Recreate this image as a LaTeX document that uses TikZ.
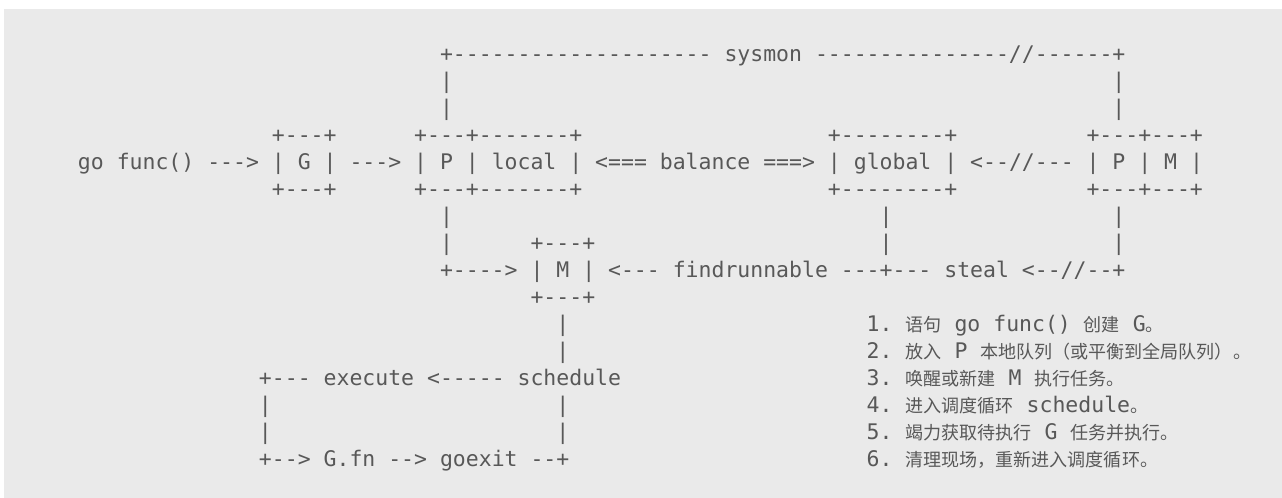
\documentclass[tikz,border=0pt]{standalone}
\usepackage{fontspec}
\setmonofont{DejaVu Sans Mono}
\newfontfamily\cjk{Noto Sans CJK SC}[Scale=0.84]
\usepackage{tikz}

\definecolor{codebg}{RGB}{234,234,234}
\definecolor{codetext}{RGB}{88,88,88}

\tikzset{
  ascii/.style={anchor=base west, inner sep=0pt, outer sep=0pt, text=codetext,
    font=\ttfamily\fontsize{10.74pt}{13.5pt}\selectfont},
}

\begin{document}
\frenchspacing
\begin{tikzpicture}[x=6.465pt, y=-13.5pt]

% Code block background
\useasboundingbox (0,0) rectangle (99.149,18.444);
\fill[codebg] (0.309,0.333) rectangle (99.149,18.444);

\begin{scope}[shift={(6.03,2.296)}]
% Row 0-2: sysmon loop
\node[ascii] (sysmon) at (28,0) {+-------------------- sysmon ---------------//------+};
\node[ascii] (sysL1) at (28,1) {|};
\node[ascii] (sysR1) at (80,1) {|};
\node[ascii] (sysL2) at (28,2) {|};
\node[ascii] (sysR2) at (80,2) {|};

% Row 3-5: G, P local, global, P M
\node[ascii] (gTop) at (15,3) {+---+};
\node[ascii] (pTop) at (26,3) {+---+-------+};
\node[ascii] (globalTop) at (58,3) {+--------+};
\node[ascii] (pmTop) at (78,3) {+---+---+};
\node[ascii] (mainline) at (0,4) {go func() ---> | G | ---> | P | local | <=== balance ===> | global | <--//--- | P | M |};
\node[ascii] (gBot) at (15,5) {+---+};
\node[ascii] (pBot) at (26,5) {+---+-------+};
\node[ascii] (globalBot) at (58,5) {+--------+};
\node[ascii] (pmBot) at (78,5) {+---+---+};

% Row 6-9: M and findrunnable
\node[ascii] (pDown1) at (28,6) {|};
\node[ascii] (globalDown1) at (62,6) {|};
\node[ascii] (pmDown1) at (80,6) {|};
\node[ascii] (pDown2) at (28,7) {|};
\node[ascii] (mTop) at (35,7) {+---+};
\node[ascii] (globalDown2) at (62,7) {|};
\node[ascii] (pmDown2) at (80,7) {|};
\node[ascii] (findline) at (28,8) {+----> | M | <--- findrunnable ---+--- steal <--//--+};
\node[ascii] (mBot) at (35,9) {+---+};

% Row 10-15: schedule loop
\node[ascii] (mDown1) at (37,10) {|};
\node[ascii] (mDown2) at (37,11) {|};
\node[ascii] (execline) at (14,12) {+--- execute <----- schedule};
\node[ascii] (loopL1) at (14,13) {|};
\node[ascii] (loopR1) at (37,13) {|};
\node[ascii] (loopL2) at (14,14) {|};
\node[ascii] (loopR2) at (37,14) {|};
\node[ascii] (exitline) at (14,15) {+--> G.fn --> goexit --+};

% Notes
\node[ascii] (note1) at (61,10) {1. {\cjk 语句} go func() {\cjk 创建} G{\cjk 。}};
\node[ascii] (note2) at (61,11) {2. {\cjk 放入} P {\cjk 本地队列（或平衡到全局队列）。}};
\node[ascii] (note3) at (61,12) {3. {\cjk 唤醒或新建} M {\cjk 执行任务。}};
\node[ascii] (note4) at (61,13) {4. {\cjk 进入调度循环} schedule{\cjk 。}};
\node[ascii] (note5) at (61,14) {5. {\cjk 竭力获取待执行} G {\cjk 任务并执行。}};
\node[ascii] (note6) at (61,15) {6. {\cjk 清理现场，重新进入调度循环。}};
\end{scope}

\end{tikzpicture}
\end{document}
